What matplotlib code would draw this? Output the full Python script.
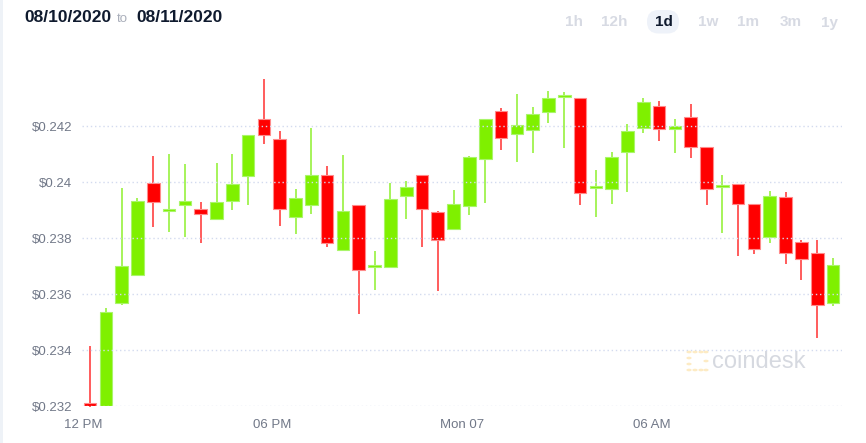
import matplotlib
matplotlib.use("Agg")
import matplotlib.pyplot as plt
import numpy as np
from matplotlib.patches import FancyBboxPatch, Rectangle, Circle

# half-hourly candles, 12 PM -> next day
opens = [0.23210, 0.23200, 0.23570, 0.23669, 0.23999, 0.23897, 0.23920, 0.23904,
         0.23869, 0.23935, 0.24024, 0.24228, 0.24154, 0.23875, 0.23918, 0.24026,
         0.23758, 0.23918, 0.23696, 0.23696, 0.23951, 0.24026, 0.23894, 0.23833,
         0.23916, 0.24083, 0.24254, 0.24174, 0.24186, 0.24251, 0.24304, 0.24303,
         0.23980, 0.23977, 0.24108, 0.24196, 0.24274, 0.24191, 0.24235, 0.24126,
         0.23982, 0.23995, 0.23923, 0.23805, 0.23949, 0.23788, 0.23746, 0.23567]
highs = [0.23415, 0.23550, 0.23979, 0.23945, 0.24094, 0.24102, 0.24066, 0.23929,
         0.24069, 0.24102, 0.24171, 0.24370, 0.24185, 0.23975, 0.24195, 0.24059,
         0.24098, 0.23920, 0.23756, 0.23999, 0.24005, 0.24026, 0.23898, 0.23973,
         0.24093, 0.24226, 0.24266, 0.24316, 0.24270, 0.24327, 0.24323, 0.24303,
         0.24044, 0.24108, 0.24209, 0.24301, 0.24291, 0.24226, 0.24281, 0.24126,
         0.24026, 0.23995, 0.23923, 0.23970, 0.23967, 0.23793, 0.23793, 0.23728]
lows = [0.23195, 0.23200, 0.23560, 0.23669, 0.23842, 0.23821, 0.23806, 0.23784,
        0.23869, 0.23902, 0.23918, 0.24137, 0.23845, 0.23815, 0.23887, 0.23770,
        0.23758, 0.23530, 0.23615, 0.23696, 0.23868, 0.23770, 0.23613, 0.23833,
        0.23882, 0.23927, 0.24116, 0.24074, 0.24105, 0.24211, 0.24124, 0.23918,
        0.23875, 0.23923, 0.23966, 0.24178, 0.24147, 0.24106, 0.24088, 0.23918,
        0.23819, 0.23737, 0.23745, 0.23782, 0.23709, 0.23650, 0.23444, 0.23558]
closes = [0.23200, 0.23537, 0.23702, 0.23933, 0.23931, 0.23901, 0.23933, 0.23886,
          0.23931, 0.23993, 0.24171, 0.24171, 0.23904, 0.23943, 0.24026, 0.23784,
          0.23898, 0.23687, 0.23700, 0.23942, 0.23982, 0.23906, 0.23794, 0.23924,
          0.24091, 0.24226, 0.24158, 0.24204, 0.24244, 0.24302, 0.24313, 0.23963,
          0.23984, 0.24092, 0.24185, 0.24289, 0.24192, 0.24203, 0.24127, 0.23975,
          0.23990, 0.23922, 0.23763, 0.23951, 0.23748, 0.23727, 0.23560, 0.23706]

y_ticks = [0.232, 0.234, 0.236, 0.238, 0.240, 0.242]
y_labels = ["$0.232", "$0.234", "$0.236", "$0.238", "$0.24", "$0.242"]
x_tick_labels = ["12 PM", "06 PM", "Mon 07", "06 AM"]
ranges = ["1h", "12h", "1d", "1w", "1m", "3m", "1y"]

W, H = 866, 443
UP, DOWN = "#7ff000", "#ff0000"
UP_WICK, DOWN_WICK = "#a6f35a", "#ff5c5c"
UP_EDGE, DOWN_EDGE = "#a9f56a", "#ff8a8a"
GRAY = "#717888"

plt.rcParams["font.family"] = ["Liberation Sans", "DejaVu Sans"]


def fx(px):
    return px / W


def fy(py):
    return 1 - py / H


fig = plt.figure(figsize=(W / 100, H / 100), dpi=100)
fig.patch.set_facecolor("white")
fig.patches.append(Rectangle((0, 0), fx(3), 1, transform=fig.transFigure,
                             facecolor="#eef2f7", edgecolor="none"))

ax = fig.add_axes([fx(82), fy(406), fx(842) - fx(82), fy(70) - fy(406)])
x = np.arange(len(opens))
o = np.array(opens)
c = np.array(closes)
up = c >= o
body_bottom = np.minimum(o, c)
body_height = np.maximum(np.abs(c - o), 0.00008)

ax.vlines(x[up], np.array(lows)[up], np.array(highs)[up], color=UP_WICK,
          linewidth=1.4, zorder=2, clip_on=False)
ax.vlines(x[~up], np.array(lows)[~up], np.array(highs)[~up], color=DOWN_WICK,
          linewidth=1.4, zorder=2, clip_on=False)
ax.bar(x[up], body_height[up], bottom=body_bottom[up], width=0.8,
       color=UP, edgecolor=UP_EDGE, linewidth=0.8, zorder=3)
ax.bar(x[~up], body_height[~up], bottom=body_bottom[~up], width=0.8,
       color=DOWN, edgecolor=DOWN_EDGE, linewidth=0.8, zorder=3)

for yt in y_ticks:
    ax.axhline(yt, color="#d3dbef", linewidth=1.0, linestyle=(0, (1, 2)), zorder=4)

ax.set_xlim(-0.51, 47.57)
ax.set_ylim(0.232, 0.24402)
ax.set_yticks(y_ticks)
ax.set_yticklabels(y_labels)
ax.set_xticks([-0.45 + 12 * k for k in range(len(x_tick_labels))])
ax.set_xticklabels(x_tick_labels)
ax.tick_params(axis="y", length=0, pad=7, labelsize=9.5, labelcolor=GRAY)
ax.tick_params(axis="x", length=0, pad=9, labelsize=9.5, labelcolor=GRAY)
for s in ax.spines.values():
    s.set_visible(False)
ax.patch.set_alpha(0)

# watermark
for cx, cy in [(689, 352), (689, 358), (689, 364), (689, 370), (695, 352),
               (701, 352), (706, 352), (695, 370), (701, 370), (706, 370), (706, 361)]:
    fig.patches.append(Circle((fx(cx), fy(cy)), 2.6 / W, transform=fig.transFigure,
                              facecolor="#fdebc4", edgecolor="none"))
fig.text(fx(712), fy(362), "coindesk", fontsize=17, color="#d6d9e0",
         va="center", ha="left")

# header
fig.text(fx(24), fy(18), "08/10/2020", fontsize=12.5, fontweight="bold",
         color="#0f1a2e", va="center")
fig.text(fx(117), fy(19), "to", fontsize=9.5, color="#a9aeba", va="center")
fig.text(fx(136), fy(18), "08/11/2020", fontsize=12.5, fontweight="bold",
         color="#0f1a2e", va="center")

centers = [574.5, 614.5, 664, 708.5, 748.5, 790.5, 829]
# pill behind the active range, drawn in pixel units
pill = FancyBboxPatch((647, H - 33.5), 32, 23.5,
                      boxstyle="round,pad=0,rounding_size=11.5",
                      transform=None, facecolor="#eef2f9", edgecolor="none")
fig.patches.append(pill)
for lab, cx in zip(ranges, centers):
    active = lab == "1d"
    fig.text(fx(cx), fy(22.5), lab, fontsize=11, fontweight="bold",
             color="#0f1a2e" if active else "#d7dae3", ha="center", va="center")

fig.savefig("out.png", dpi=100)
